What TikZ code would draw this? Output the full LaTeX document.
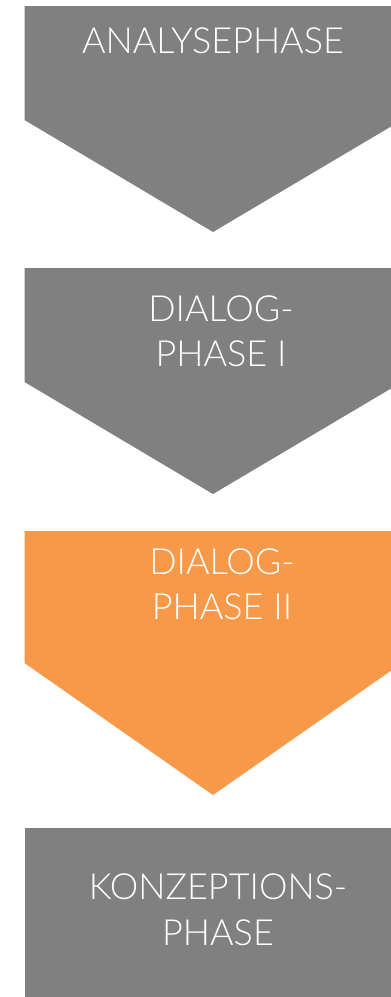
\documentclass[tikz,border=0pt]{standalone}
\usepackage{fontspec}
\setmainfont{Lato Light}
\definecolor{phgrey}{HTML}{808080}
\definecolor{phorange}{HTML}{F79948}
\begin{document}
\begin{tikzpicture}[x=1pt,y=-1pt,
  lbl/.style={text=white,font=\fontsize{36}{45}\selectfont,anchor=base,inner sep=0pt}]
\useasboundingbox (0,0) rectangle (391,997);
\begin{scope}
\clip (0,0) rectangle (391,997);
\fill[phgrey] (24.5,6) -- (402,6) -- (402,120) -- (213,232) -- (24.5,120) -- cycle;
\fill[phgrey] (24.5,268) -- (402,268) -- (402,382) -- (213,494) -- (24.5,382) -- cycle;
\fill[phorange] (24.5,531) -- (402,531) -- (402,663) -- (213,795) -- (24.5,663) -- cycle;
\fill[phgrey] (24.5,828) rectangle (402,997);
\end{scope}
\node[lbl] (t1) at (213,53) {ANALYSEPHASE};
\node[lbl] (t2a) at (221,321) {DIALOG-};
\node[lbl] (t2b) at (221,366) {PHASE I};
\node[lbl] (t3a) at (222,574) {DIALOG-};
\node[lbl] (t3b) at (222,619) {PHASE II};
\node[lbl] (t4a) at (218,899) {KONZEPTIONS-};
\node[lbl] (t4b) at (218,945) {PHASE};
\end{tikzpicture}
\end{document}
